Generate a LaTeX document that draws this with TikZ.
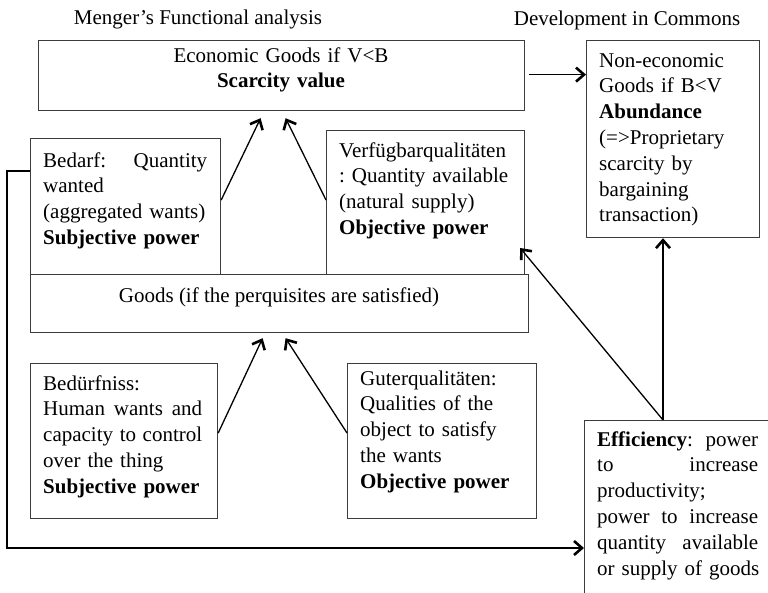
\documentclass[tikz,border=0pt]{standalone}
\usepackage{fontspec}
\setmainfont{Liberation Serif}
\usetikzlibrary{arrows.meta,calc}
\newcommand\bodyfont{\fontsize{21}{25.8}\selectfont}
% a line whose word spaces stretch to the given width
\newcommand\spread[2]{\leavevmode\hbox to #1{%
  \spaceskip=0.25em plus 1fil\xspaceskip=0.25em plus 1fil\relax #2}}
\definecolor{framegray}{RGB}{60,60,60}
\tikzset{
  box/.style={draw=framegray, line width=1.2pt, anchor=north west, inner sep=0pt},
  txt/.style={font=\bodyfont, inner sep=0pt, anchor=base west, align=left},
  ctxt/.style={font=\bodyfont, inner sep=0pt, anchor=base, align=center},
  conn/.style={draw=black, line width=1.3pt,
    -{Straight Barb[length=8pt,width=14pt,line width=2.6pt]}},
}
\begin{document}
\begin{tikzpicture}[x=1pt,y=-1pt]
\useasboundingbox (0,0) rectangle (768,592);
\clip (0,0) rectangle (768,592);

% column headings
\node[ctxt] (hdrL) at (198,24) {Menger’s Functional analysis};
\node[ctxt] (hdrR) at (627,25) {Development in Commons};

% frames
\node[box, minimum width=486pt, minimum height=70pt]  (scar)    at (38,40)   {};
\node[box, minimum width=173pt, minimum height=197pt] (noneco)  at (586,40)  {};
\node[box, minimum width=190pt, minimum height=136pt] (bedarf)  at (30,138)  {};
\node[box, minimum width=198pt, minimum height=144pt] (verf)    at (326,130) {};
\node[box, minimum width=498pt, minimum height=58pt]  (goods)   at (30,274)  {};
\node[box, minimum width=187pt, minimum height=155pt] (beduerf) at (30,363)  {};
\node[box, minimum width=189pt, minimum height=155pt] (guter)   at (347,363) {};
\node[box, minimum width=220pt, minimum height=220pt] (effic)   at (584,420) {};

% texts
\node[ctxt, text width=320pt] (scarT) at (281,62)
  {Economic Goods if V<B\\\textbf{Scarcity value}};
\node[ctxt] (goodsT) at (279,302) {Goods (if the perquisites are satisfied)};
\node[txt, text width=152pt] (nonecoT) at (599,67)
  {Non-economic\\Goods if B<V\\\textbf{Abundance}\\(=>Proprietary\\scarcity by\\bargaining\\transaction)};
\node[txt, text width=164pt] (bedarfT) at (43,167)
  {\leavevmode\hbox to 164pt{Bedarf:\hfill Quantity}\\wanted\\\mbox{(aggregated wants)}\\\textbf{Subjective power}};
\node[txt, text width=170pt] (verfT) at (339,157)
  {Verfügbarqualitäten\\\spread{169pt}{: Quantity available}\\(natural supply)\\\textbf{Objective power}};
\node[txt, text width=160pt] (beduerfT) at (43,390)
  {Bedürfniss:\\\spread{159pt}{Human wants and}\\\spread{159pt}{capacity to control}\\over the thing\\\textbf{Subjective power}};
\node[txt, text width=166pt] (guterT) at (360,385)
  {Guterqualitäten:\\Qualities of the\\object to satisfy\\the wants\\\textbf{Objective power}};
\node[txt, text width=162pt] (efficT) at (597,446)
  {\spread{161pt}{\textbf{Efficiency}: power}\\\spread{161pt}{to increase}\\productivity;\\\spread{161pt}{power to increase}\\\spread{161pt}{quantity available}\\\mbox{or supply of goods}};

% connectors
\draw[conn] ($(bedarf.north east)+(0,62)$) -- ($(scar.south)+(-21,7)$);
\draw[conn] ($(verf.north west)+(0,70)$) -- ($(scar.south)+(4,7)$);
\draw[conn] ($(beduerf.north east)+(0,70)$) -- ($(goods.south)+(-17,5)$);
\draw[conn] ($(guter.north west)+(0,70)$) -- ($(goods.south)+(6,5)$);
\coordinate (scarE) at ($(scar.east)+(4,-1)$);
\draw[conn] (scarE) -- (scarE -| noneco.west);
\coordinate (effTop) at ($(effic.north west)+(79,0)$);
\draw[conn] (effTop) -- (effTop |- noneco.south);
\draw[conn] (effTop) -- ($(verf.north east)+(-5,118)$);
\draw[conn] ($(bedarf.north west)+(0,33)$) -- ++(-23,0)
  |- ($(effic.north west)+(0,128)$);
\end{tikzpicture}
\end{document}
